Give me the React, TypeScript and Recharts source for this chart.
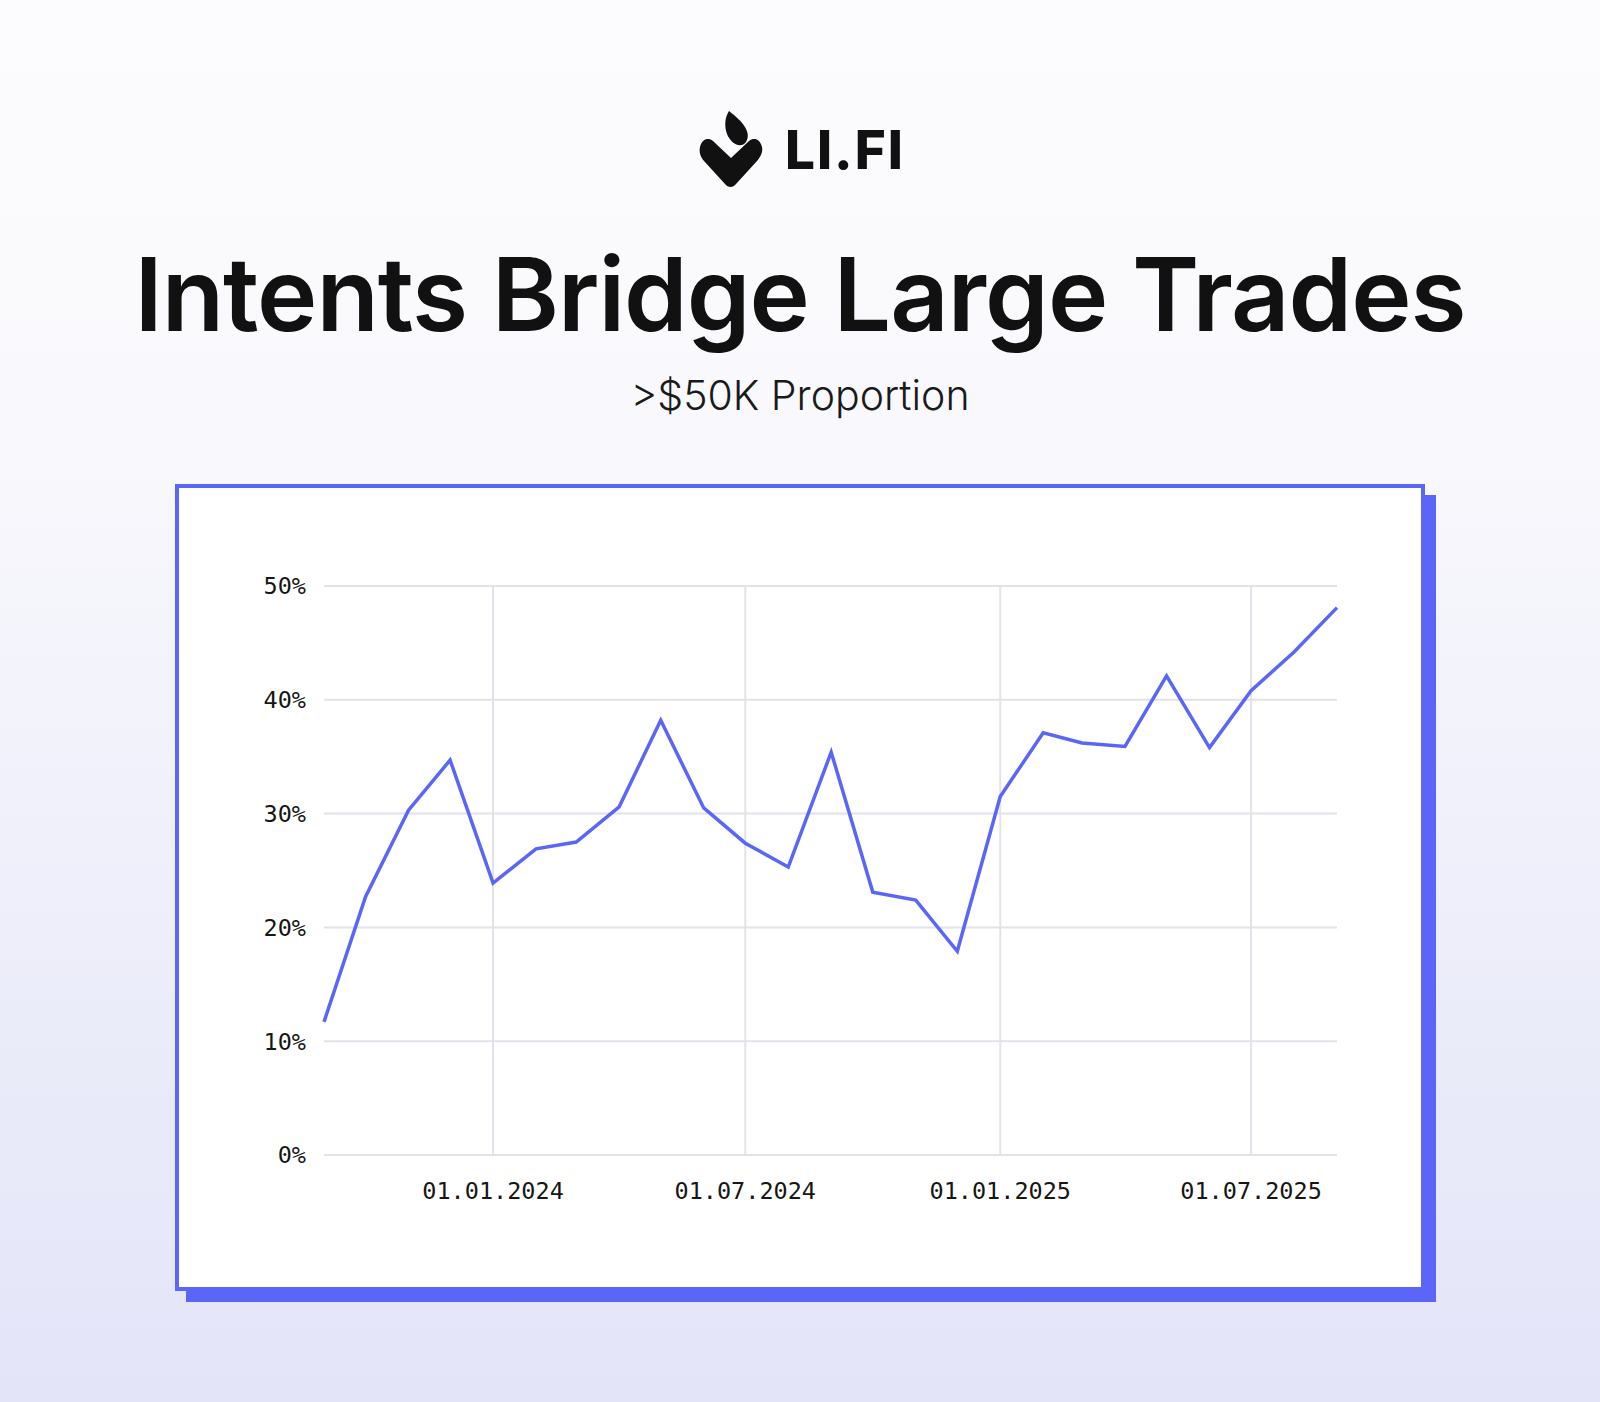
import React from 'react'
import { LineChart, Line, XAxis, YAxis, CartesianGrid, ReferenceLine } from 'recharts'

// monthly points, first of each month
const MONTHS = [
  '2023-09-01', '2023-10-01', '2023-11-01', '2023-12-01',
  '2024-01-01', '2024-02-01', '2024-03-01', '2024-04-01', '2024-05-01', '2024-06-01',
  '2024-07-01', '2024-08-01', '2024-09-01', '2024-10-01', '2024-11-01', '2024-12-01',
  '2025-01-01', '2025-02-01', '2025-03-01', '2025-04-01', '2025-05-01', '2025-06-01',
  '2025-07-01', '2025-08-01', '2025-09-01',
]

// share of bridge volume from trades > $50K (%)
const LARGE_SHARE = [
  11.7, 22.7, 30.3, 34.7,
  23.9, 26.9, 27.5, 30.6, 38.2, 30.5,
  27.4, 25.3, 35.4, 23.1, 22.4, 17.9,
  31.5, 37.1, 36.2, 35.9, 42.1, 35.8,
  40.8, 44.2, 48.1,
]

const X_TICKS = ['2024-01-01', '2024-07-01', '2025-01-01', '2025-07-01']
const Y_TICKS = [0, 10, 20, 30, 40, 50]

const BLUE = '#5b66f8'
const GRID = '#e2e2ea'
const toTime = (d: string) => Date.parse(d + 'T00:00:00Z')

const data = MONTHS.map((m, i) => ({ t: toTime(m), share: LARGE_SHARE[i] }))

const fmtDate = (t: number) => {
  const d = new Date(t)
  const dd = String(d.getUTCDate()).padStart(2, '0')
  const mm = String(d.getUTCMonth() + 1).padStart(2, '0')
  return `${dd}.${mm}.${d.getUTCFullYear()}`
}

const tickStyle = { fontFamily: '"DejaVu Sans Mono", monospace', fontSize: 23.5, fill: '#161616' }

function Logo() {
  return (
    <svg width={1600} height={220} style={{ position: 'absolute', left: 0, top: 0 }}>
      {/* drop */}
      <path
        d="M729 111 C742 121 752 132 746 142 C741 149 731 144 727 134 C724 126 725 117 729 111 Z"
        fill="#111"
      />
      {/* chevron */}
      <path
        d="M700 147 C702 139 708 137 713 141 L731 158 L749 141 C754 137 760 139 762 147 C763 152 761 156 757 161 L736 184 C733 188 728 188 725 184 L704 161 C700 156 699 152 700 147 Z"
        fill="#111"
      />
      <text
        x={785}
        y={169}
        style={{ fontFamily: 'Inter, sans-serif', fontWeight: 800, fontSize: 53, fill: '#111', letterSpacing: 2 }}
      >
        LI.FI
      </text>
    </svg>
  )
}

export default function App() {
  return (
    <div
      style={{
        position: 'absolute',
        left: 0,
        top: 0,
        width: 1600,
        height: 1402,
        overflow: 'hidden',
        background: 'linear-gradient(180deg, #fcfcfe 0%, #f9f9fd 30%, #eff0fa 60%, #e3e4f8 100%)',
      }}
    >
      <Logo />
      <div
        style={{
          position: 'absolute',
          left: 0,
          width: 1600,
          top: 229,
          textAlign: 'center',
          fontFamily: 'Inter, sans-serif',
          fontWeight: 600,
          fontSize: 102,
          letterSpacing: -1,
          color: '#111',
          lineHeight: '130px',
        }}
      >
        Intents Bridge Large Trades
      </div>
      <div
        style={{
          position: 'absolute',
          left: 0,
          width: 1600,
          top: 369,
          textAlign: 'center',
          fontFamily: 'Inter, sans-serif',
          fontWeight: 300,
          fontSize: 41,
          color: '#1a1a1a',
          lineHeight: '52px',
        }}
      >
        &gt;$50K Proportion
      </div>

      <div
        style={{
          position: 'absolute',
          left: 175,
          top: 484,
          width: 1250,
          height: 807,
          boxSizing: 'border-box',
          border: `4px solid ${BLUE}`,
          background: '#fff',
          boxShadow: `11px 11px 0 ${BLUE}`,
        }}
      />
      <div style={{ position: 'absolute', left: 175, top: 484 }}>
        <LineChart width={1250} height={807} data={data} margin={{ top: 102, right: 88, bottom: 76, left: 0 }}>
          <CartesianGrid stroke={GRID} strokeWidth={2} vertical={false} />
          {/* vertical grid only at the date ticks */}
          {X_TICKS.map((d) => (
            <ReferenceLine key={d} x={toTime(d)} stroke={GRID} strokeWidth={2} />
          ))}
          <XAxis
            dataKey="t"
            type="number"
            scale="time"
            domain={['dataMin', 'dataMax']}
            ticks={X_TICKS.map(toTime)}
            tickFormatter={fmtDate}
            axisLine={false}
            tickLine={false}
            tickSize={6}
            tickMargin={21}
            height={60}
            tick={tickStyle}
          />
          <YAxis
            domain={[0, 50]}
            ticks={Y_TICKS}
            tickFormatter={(v: number) => `${v}%`}
            axisLine={false}
            tickLine={false}
            tickSize={6}
            tickMargin={12}
            width={149}
            tick={tickStyle}
          />
          <Line
            type="linear"
            dataKey="share"
            stroke={BLUE}
            strokeWidth={3.5}
            dot={false}
            isAnimationActive={false}
          />
        </LineChart>
      </div>
    </div>
  )
}
